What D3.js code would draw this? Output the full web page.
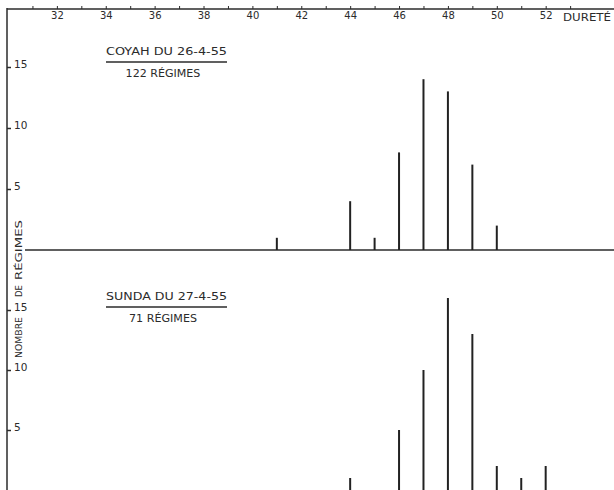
<!DOCTYPE html>
<html>
<head>
<meta charset="utf-8">
<script src="https://cdn.jsdelivr.net/npm/d3@7"></script>
<style>
  body { margin: 0; background: #fff; }
  svg { display: block; }
  text { font-family: "DejaVu Sans", sans-serif; fill: #2b2b2b; }
</style>
</head>
<body>
<div id="chart"></div>
<script>
// dureté values and counts
const coyahDurete = [41, 44, 45, 46, 47, 48, 49, 50];
const coyahCounts = [1, 4, 1, 8, 14, 13, 7, 2];
const sundaDurete = [44, 46, 47, 48, 49, 50, 51, 52];
const sundaCounts = [1, 5, 10, 16, 13, 2, 1, 2];
const xLabels = [32, 34, 36, 38, 40, 42, 44, 46, 48, 50, 52];
const xMinor = [31, 33, 35, 37, 39, 41, 43, 45, 47, 49, 51, 53];
const yTicks = [5, 10, 15];

const width = 614, height = 490;
const ink = "#2b2b2b";

const svg = d3.select("#chart").append("svg")
  .attr("width", width)
  .attr("height", height);

const x = d3.scaleLinear().domain([30, 55]).range([8, 619]);

// the two panels share the x scale, each has its own count scale
const panels = [
  { durete: coyahDurete, counts: coyahCounts, y: d3.scaleLinear().domain([0, 15]).range([250, 67]),
    title: "COYAH DU 26-4-55", sub: "122 RÉGIMES", titleY: 55, baseline: true },
  { durete: sundaDurete, counts: sundaCounts, y: d3.scaleLinear().domain([0, 15]).range([490, 310]),
    title: "SUNDA DU 27-4-55", sub: "71 RÉGIMES", titleY: 300, baseline: false }
]

// top axis (labels under the line, ticks pointing up)
const xAxis = d3.axisBottom(x)
  .tickValues(xLabels.concat(xMinor).sort((a, b) => a - b))
  .tickSize(-3)
  .tickPadding(3)
  .tickFormat(d => xLabels.includes(d) ? d : "");

const gx = svg.append("g")
  .attr("transform", "translate(0,9)")
  .call(xAxis);
gx.select(".domain").remove();
gx.selectAll("line").attr("stroke", ink).attr("stroke-width", 1);
gx.selectAll("text").attr("font-size", 10).style("fill", ink);

svg.append("line")
  .attr("x1", 7).attr("x2", width)
  .attr("y1", 9).attr("y2", 9)
  .attr("stroke", ink).attr("stroke-width", 1.5);

svg.append("text")
  .attr("x", 563).attr("y", 21)
  .attr("font-size", 10)
  .attr("textLength", 48)
  .attr("lengthAdjust", "spacingAndGlyphs")
  .text("DURETÉ");

// left axis
svg.append("line")
  .attr("x1", 7).attr("x2", 7)
  .attr("y1", 8).attr("y2", height)
  .attr("stroke", ink).attr("stroke-width", 1.5);

// axis title, word by word (the words are spread around the tick labels)
const yTitle = [
  { word: "NOMBRE", from: 358, len: 41 },
  { word: "DE", from: 297, len: 12 },
  { word: "RÉGIMES", from: 280, len: 60 }
];
svg.selectAll(".ytitle")
  .data(yTitle)
  .enter()
  .append("text")
  .attr("class", "ytitle")
  .attr("transform", d => `translate(22,${d.from}) rotate(-90)`)
  .attr("font-size", 9)
  .attr("textLength", d => d.len)
  .attr("lengthAdjust", "spacingAndGlyphs")
  .text(d => d.word);

panels.forEach(p => {
  const g = svg.append("g");

  const yAxis = d3.axisRight(p.y)
    .tickValues(yTicks)
    .tickSize(4)
    .tickPadding(3);
  const gy = g.append("g")
    .attr("transform", "translate(7,0)")
    .call(yAxis);
  gy.select(".domain").remove();
  gy.selectAll("line").attr("stroke", ink).attr("stroke-width", 1.5);
  gy.selectAll("text").attr("font-size", 10.5).attr("dy", "0.05em").style("fill", ink);

  if (p.baseline) {
    g.append("line")
      .attr("x1", 25).attr("x2", width)
      .attr("y1", p.y(0)).attr("y2", p.y(0))
      .attr("stroke", ink).attr("stroke-width", 1.5);
  }

  // title, rule and sample size
  g.append("text")
    .attr("x", 106).attr("y", p.titleY)
    .attr("font-size", 10)
    .attr("textLength", 121)
    .attr("lengthAdjust", "spacingAndGlyphs")
    .text(p.title);
  g.append("line")
    .attr("x1", 106).attr("x2", 227)
    .attr("y1", p.titleY + 7).attr("y2", p.titleY + 7)
    .attr("stroke", ink).attr("stroke-width", 1.3);
  g.append("text")
    .attr("x", 163).attr("y", p.titleY + 22)
    .attr("text-anchor", "middle")
    .attr("font-size", 10)
    .attr("textLength", p.sub.length * 6.8)
    .attr("lengthAdjust", "spacingAndGlyphs")
    .text(p.sub);

  g.selectAll(".bar")
    .data(p.durete.map((d, i) => ({ durete: d, n: p.counts[i] })))
    .enter()
    .append("line")
    .attr("class", "bar")
    .attr("x1", d => x(d.durete)).attr("x2", d => x(d.durete))
    .attr("y1", p.y(0))
    .attr("y2", d => p.y(d.n))
    .attr("stroke", "#222")
    .attr("stroke-width", 2);
})
</script>
</body>
</html>
